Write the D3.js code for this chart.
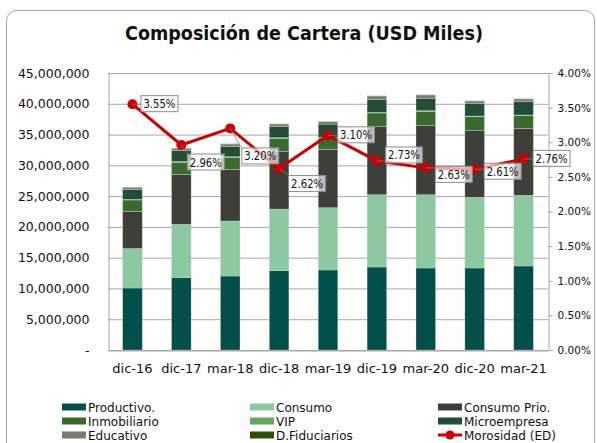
<!DOCTYPE html>
<html><head><meta charset="utf-8">
<script src="https://cdn.jsdelivr.net/npm/d3@7"></script>
<style>
html,body{margin:0;padding:0;background:#fff;}
svg{display:block;font-family:"DejaVu Sans",Verdana,sans-serif;}
</style></head>
<body>
<svg id="chart" width="597" height="443"></svg>
<script>
// ---------- DATA ----------
const categories = ["dic-16","dic-17","mar-18","dic-18","mar-19","dic-19","mar-20","dic-20","mar-21"];
const productivo   = [10070000,11750000,12020000,12880000,13000000,13480000,13320000,13320000,13650000];
const consumo      = [6420000, 8670000, 8940000, 10020000,10120000,11750000,11910000,11490000,11480000];
const consumoPrio  = [6010000, 8120000, 8400000, 9380000, 9480000, 11050000,11210000,10820000,10890000];
const inmobiliario = [1870000, 1960000, 1920000, 2090000, 1830000, 2220000, 2320000, 2260000, 2040000];
const vip          = [110000, 120000, 120000, 120000, 120000, 120000, 120000, 120000, 120000];
const microempresa = [1590000, 1760000, 1630000, 1790000, 2150000, 2110000, 2010000, 2010000, 2160000];
const educativo    = [360000, 390000, 440000, 430000, 390000, 530000, 540000, 430000, 440000];
const fiduciarios  = [20000, 20000, 20000, 20000, 20000, 20000, 20000, 20000, 20000];
const morosidad    = [3.55, 2.96, 3.20, 2.62, 3.10, 2.73, 2.63, 2.61, 2.76];
const leftTicks  = [0,5000000,10000000,15000000,20000000,25000000,30000000,35000000,40000000,45000000];
const rightTicks = [0,0.5,1,1.5,2,2.5,3,3.5,4];
const seriesNames = ["Productivo.","Consumo","Consumo Prio.","Inmobiliario","VIP","Microempresa","Educativo","D.Fiduciarios"];
const seriesData  = [productivo,consumo,consumoPrio,inmobiliario,vip,microempresa,educativo,fiduciarios];
const lineName = "Morosidad (ED)";

// ---------- STYLE / LAYOUT ----------
const colors = ["#02504a","#8cc9a0","#3e3f38","#3a6a2e","#6aa55f","#234d37","#7a7a70","#2d4f0a"];
const lineColor = "#cc0000";
// label box offsets relative to each marker (dx = box left, dy = box top)
const labelOffsets = [[8,-9],[5.5,8.5],[11,19],[9,6.5],[9,-9],[8,-14.5],[9,-2],[9,-6.5],[9,-9]];

const svg = d3.select("#chart");
const L = 108, R = 548, T = 73, B = 350;

// frame
svg.append("rect").attr("x",6.5).attr("y",10.5).attr("width",588).attr("height",445)
  .attr("rx",10).attr("fill","#fff").attr("stroke","#a6a6a6").attr("stroke-width",1);

// title
svg.append("text").attr("x",304).attr("y",40).attr("text-anchor","middle")
  .attr("font-size",20).attr("font-weight","bold").attr("fill","#111")
  .attr("textLength",358).attr("lengthAdjust","spacingAndGlyphs")
  .text("Composición de Cartera (USD Miles)");

const x = d3.scaleBand().domain(categories).range([L,R]).padding(0);
const barW = x.bandwidth()*0.4;
const y = d3.scaleLinear().domain([0,45000000]).range([B,T]);
const y2 = d3.scaleLinear().domain([0,4]).range([B,T]);

// gridlines
svg.append("g").selectAll("line").data(leftTicks).join("line")
  .attr("x1",L).attr("x2",R).attr("y1",d=>y(d)+0.5).attr("y2",d=>y(d)+0.5)
  .attr("stroke","#a6a6a6").attr("stroke-width",1);

// left axis
const gL = svg.append("g").attr("transform",`translate(${L+0.5},0)`)
  .call(d3.axisLeft(y).tickValues(leftTicks).tickSize(0).tickPadding(19)
    .tickFormat(d=> d===0 ? "-" : d3.format(",")(d)));
gL.select(".domain").attr("stroke","#a6a6a6");
gL.selectAll("text").attr("font-size",12.5).attr("fill","#111").attr("font-family","DejaVu Sans");

// right axis
const gR = svg.append("g").attr("transform",`translate(${R+0.5},0)`)
  .call(d3.axisRight(y2).tickValues(rightTicks).tickSize(4).tickPadding(5)
    .tickFormat(d=>d3.format(".2f")(d)+"%"));
gR.select(".domain").attr("stroke","#a6a6a6");
gR.selectAll(".tick line").attr("stroke","#a6a6a6");
gR.selectAll("text").attr("font-size",10.5).attr("fill","#111").attr("font-family","DejaVu Sans");

// bottom axis
const gB = svg.append("g").attr("transform",`translate(0,${B+0.5})`)
  .call(d3.axisBottom(x).tickSize(0).tickPadding(13));
gB.select(".domain").attr("stroke","#a6a6a6");
gB.selectAll("text").attr("font-size",13).attr("fill","#111").attr("font-family","DejaVu Sans");

// stacked bars
const table = categories.map((c,i)=>{ const o={cat:c}; seriesNames.forEach((s,k)=>o[s]=seriesData[k][i]); return o; });
const stack = d3.stack().keys(seriesNames)(table);
svg.append("g").selectAll("g").data(stack).join("g")
  .attr("fill",(d,i)=>colors[i])
  .selectAll("rect").data(d=>d).join("rect")
  .attr("x",d=>x(d.data.cat)+x.bandwidth()/2-barW/2)
  .attr("width",barW)
  .attr("y",d=>y(d[1]))
  .attr("height",d=>Math.max(0,y(d[0])-y(d[1])))
  .attr("stroke","#d5e6d8").attr("stroke-width",0.5).attr("stroke-opacity",0.6);

// line
const pts = morosidad.map((v,i)=>[x(categories[i])+x.bandwidth()/2, y2(v)]);
svg.append("path").datum(pts).attr("d",d3.line()).attr("fill","none")
  .attr("stroke",lineColor).attr("stroke-width",3).attr("stroke-linejoin","round");
svg.append("g").selectAll("circle").data(pts).join("circle")
  .attr("cx",d=>d[0]).attr("cy",d=>d[1]).attr("r",5).attr("fill",lineColor);

// data labels
const bw = 37, bh = 16;
const lg = svg.append("g");
pts.forEach((p,i)=>{
  const bx = p[0]+labelOffsets[i][0], by = p[1]+labelOffsets[i][1];
  const nx = Math.max(bx, Math.min(p[0], bx+bw)), ny = Math.max(by, Math.min(p[1], by+bh));
  if (Math.hypot(nx-p[0], ny-p[1]) > 5) {
    lg.append("line").attr("x1",p[0]).attr("y1",p[1]).attr("x2",nx).attr("y2",ny)
      .attr("stroke","#7f7f7f").attr("stroke-width",0.8);
  }
  lg.append("rect").attr("x",bx+0.5).attr("y",by+0.5).attr("width",bw).attr("height",bh)
    .attr("fill","#fff").attr("fill-opacity",0.65).attr("stroke","#8c8c8c").attr("stroke-width",1);
  lg.append("text").attr("x",bx+bw/2+0.5).attr("y",by+bh/2+5).attr("text-anchor","middle")
    .attr("font-size",12.5).attr("fill","#111").attr("textLength",32).attr("lengthAdjust","spacingAndGlyphs")
    .text(d3.format(".2f")(morosidad[i])+"%");
});

// legend
const legItems = seriesNames.map((n,i)=>({name:n,color:colors[i],line:false}))
  .concat([{name:lineName,color:lineColor,line:true}]);
const colX = [62,250,438], rowY = [407,421,435];
const leg = svg.append("g");
legItems.forEach((d,i)=>{
  const cx = colX[i%3], cy = rowY[Math.floor(i/3)];
  if (d.line) {
    leg.append("line").attr("x1",cx).attr("x2",cx+24).attr("y1",cy).attr("y2",cy)
      .attr("stroke",d.color).attr("stroke-width",3);
    leg.append("circle").attr("cx",cx+12).attr("cy",cy).attr("r",4.5).attr("fill",d.color);
  } else {
    leg.append("rect").attr("x",cx).attr("y",cy-3.5).attr("width",24).attr("height",7).attr("fill",d.color);
  }
  leg.append("text").attr("x",cx+26).attr("y",cy+4.5).attr("font-size",12).attr("fill","#111")
    .text(d.name);
});
</script>
</body></html>
